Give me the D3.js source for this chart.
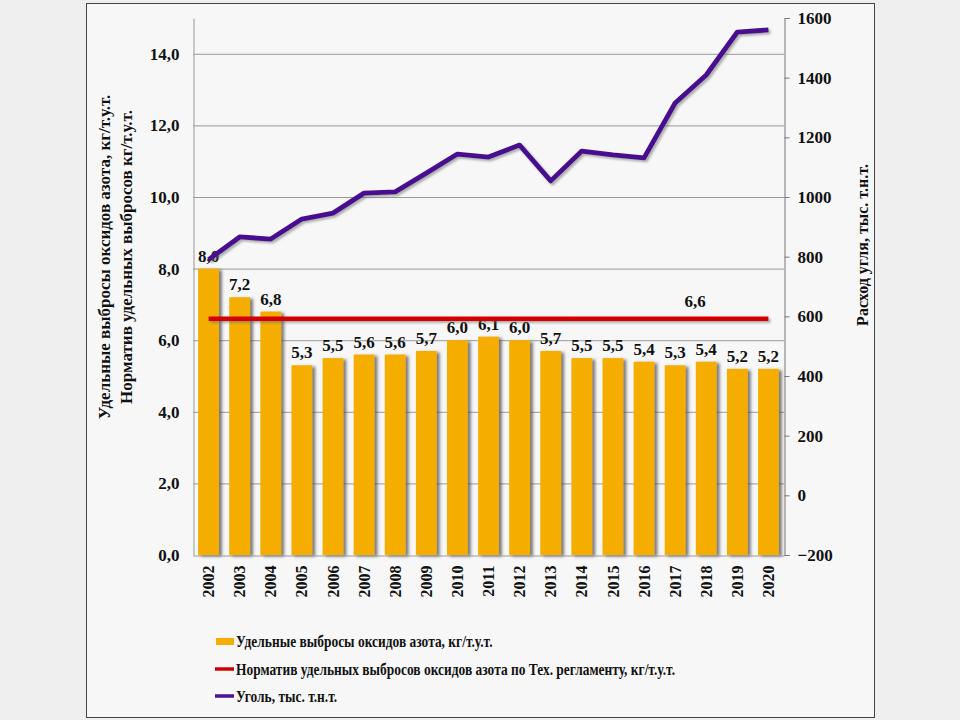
<!DOCTYPE html>
<html><head><meta charset="utf-8">
<script src="https://cdn.jsdelivr.net/npm/d3@7"></script>
<style>
html,body{margin:0;padding:0;background:#efefef;}
svg{display:block;}
text{font-family:"Liberation Serif","Times New Roman",serif;font-weight:bold;fill:#111;}
</style></head>
<body><svg id="c" width="960" height="720"></svg>
<script>
const years = ["2002","2003","2004","2005","2006","2007","2008","2009","2010","2011","2012","2013","2014","2015","2016","2017","2018","2019","2020"];
const emissions = [8.0,7.2,6.8,5.3,5.5,5.6,5.6,5.7,6.0,6.1,6.0,5.7,5.5,5.5,5.4,5.3,5.4,5.2,5.2];
const norm = [6.6,6.6,6.6,6.6,6.6,6.6,6.6,6.6,6.6,6.6,6.6,6.6,6.6,6.6,6.6,6.6,6.6,6.6,6.6];
const coal = [790,866,859,926,946,1013,1017,1080,1144,1134,1174,1054,1154,1141,1131,1315,1409,1553,1560];
const leftTicks = [0,2,4,6,8,10,12,14];
const rightTicks = [-200,0,200,400,600,800,1000,1200,1400,1600];
const normLabelYear = "2018";
const legendItems = ["Удельные выбросы оксидов азота, кг/т.у.т.","Норматив удельных выбросов оксидов азота по Тех. регламенту, кг/т.у.т.","Уголь, тыс. т.н.т."];
const leftTitle = ["Удельные выбросы оксидов азота, кг/т.у.т.","Норматив удельных выбросов кг/т.у.т."];
const rightTitle = "Расход угля, тыс. т.н.т.";

const fmt = v => d3.format(".1f")(v).replace(".", ",");
const svg = d3.select("#c");
const m={l:193,r:784,t:18,b:555};

const defs = svg.append("defs");
const f = defs.append("filter").attr("id","sh").attr("x","-20%").attr("y","-20%").attr("width","150%").attr("height","150%");
f.append("feDropShadow").attr("dx",3).attr("dy",1.5).attr("stdDeviation",1.5).attr("flood-color","#444").attr("flood-opacity",0.7);
const f2 = defs.append("filter").attr("id","lsh").attr("filterUnits","userSpaceOnUse").attr("x",0).attr("y",0).attr("width",960).attr("height",720);
f2.append("feDropShadow").attr("dx",2).attr("dy",2).attr("stdDeviation",1.2).attr("flood-color","#666").attr("flood-opacity",0.5);

// frame
svg.append("rect").attr("x",86.5).attr("y",3.5).attr("width",788).attr("height",714).attr("fill","#f7f7f7").attr("stroke","#444").attr("stroke-width",1);

const x = d3.scaleBand().domain(years).range([m.l,m.r]).paddingInner(0.33).paddingOuter(0.165);
const y = d3.scaleLinear().domain([0,15]).range([m.b,m.t]);
const y2 = d3.scaleLinear().domain([-200,1600]).range([m.b,m.t]);
const cx = d => x(d)+x.bandwidth()/2;
const bold = sel => sel.style("font-family","Liberation Serif").style("font-weight","bold").attr("fill","#111");

// gridlines
svg.append("g").selectAll("line").data(leftTicks.filter(d=>d>0)).join("line")
  .attr("x1",m.l).attr("x2",m.r).attr("y1",d=>y(d)+0.5).attr("y2",d=>y(d)+0.5)
  .attr("stroke","#9a9a9a").attr("stroke-width",1);

// left axis
const gl = svg.append("g").attr("transform",`translate(${m.l+0.5},0)`)
  .call(d3.axisLeft(y).tickValues(leftTicks).tickSize(0).tickPadding(14).tickFormat(fmt));
gl.select(".domain").attr("stroke","#999");
bold(gl.selectAll("text").style("font-size","17px"));

// right axis
const gr = svg.append("g").attr("transform",`translate(${m.r+0.5},0)`)
  .call(d3.axisRight(y2).tickValues(rightTicks).tickSize(5).tickPadding(8).tickFormat(d3.format("d")));
gr.select(".domain").attr("stroke","#777");
gr.selectAll(".tick line").attr("stroke","#777");
bold(gr.selectAll("text").style("font-size","17px"));

// bars
svg.append("g").attr("filter","url(#sh)").selectAll("rect").data(years).join("rect")
  .attr("x",d=>x(d)).attr("width",x.bandwidth())
  .attr("y",(d,i)=>y(emissions[i])).attr("height",(d,i)=>y(0)-y(emissions[i]))
  .attr("fill","#f5ae00");

// bottom axis
const gb = svg.append("g").attr("transform",`translate(0,${m.b+0.5})`)
  .call(d3.axisBottom(x).tickSize(0).tickPadding(10));
gb.select(".domain").attr("stroke","#999");
bold(gb.selectAll("text").style("font-size","16px"))
  .attr("transform","rotate(-90)").attr("text-anchor","end").attr("dx","-10").attr("dy","0.35em").attr("y",0).attr("x",0);

// bar labels
svg.append("g").selectAll("text").data(years).join("text")
  .attr("x",d=>cx(d)).attr("y",(d,i)=>y(emissions[i])-7)
  .attr("text-anchor","middle").style("font-size","17px").text((d,i)=>fmt(emissions[i]));

// norm line
svg.append("path").datum(years).attr("filter","url(#lsh)")
  .attr("d",d3.line().x(d=>cx(d)).y((d,i)=>y(norm[i])))
  .attr("fill","none").attr("stroke","#d40000").attr("stroke-width",4.5);
const ni = years.indexOf(normLabelYear);
svg.append("text").attr("x",cx(normLabelYear)-11).attr("y",y(norm[ni])-12).attr("text-anchor","middle").style("font-size","17px").text(fmt(norm[ni]));

// coal line
svg.append("path").datum(years).attr("filter","url(#lsh)")
  .attr("d",d3.line().x(d=>cx(d)).y((d,i)=>y2(coal[i])))
  .attr("fill","none").attr("stroke","#4a1190").attr("stroke-width",4.8).attr("stroke-linejoin","round");

// axis titles
const lt = svg.append("text").attr("transform","translate(110,257) rotate(-90)").attr("text-anchor","middle").style("font-size","17px");
lt.append("tspan").attr("x",0).attr("dy",0).text(leftTitle[0]);
lt.append("tspan").attr("x",0).attr("dy","1.3em").text(leftTitle[1]);
svg.append("text").attr("transform","translate(868,245) rotate(-90)").attr("text-anchor","middle").style("font-size","16px").text(rightTitle);

// legend
const lg = svg.append("g");
const rowY = [642,670,697];
lg.append("rect").attr("x",216).attr("y",rowY[0]-4).attr("width",18).attr("height",7).attr("fill","#f5ae00");
lg.append("line").attr("x1",215).attr("x2",234).attr("y1",rowY[1]-1).attr("y2",rowY[1]-1).attr("stroke","#d40000").attr("stroke-width",3.5);
lg.append("line").attr("x1",215).attr("x2",234).attr("y1",rowY[2]-1).attr("y2",rowY[2]-1).attr("stroke","#4a1190").attr("stroke-width",3.5);
lg.selectAll("text").data(legendItems).join("text")
  .attr("transform",(d,i)=>`translate(236,${rowY[i]+5}) scale(0.84,1)`).style("font-size","16px").text(d=>d);
</script></body></html>
